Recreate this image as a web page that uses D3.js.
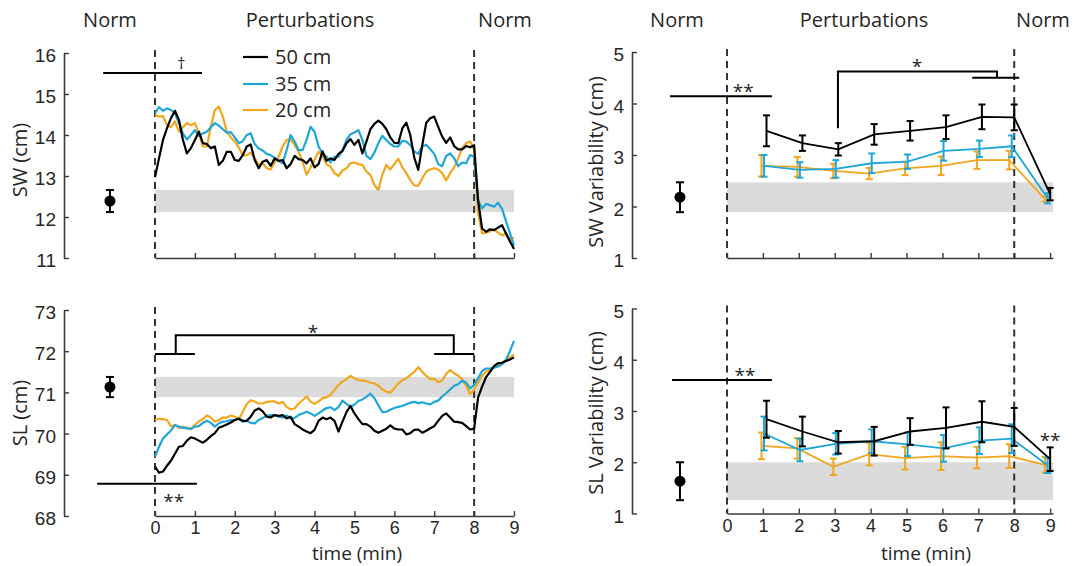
<!DOCTYPE html>
<html><head><meta charset="utf-8">
<script src="https://cdn.jsdelivr.net/npm/d3@7"></script>
<style>
body{margin:0;background:#fff;}
svg{font-family:"Open Sans","Noto Sans",sans-serif;}
</style></head>
<body><svg id="c" width="1075" height="566"></svg>
<script>
// ---------------- DATA ----------------
const seriesNames = ["50 cm", "35 cm", "20 cm"];
const timeMin = d3.range(0, 91).map(i => i / 10);   // 0 .. 9 min, 0.1 min step

const swBlack = [12.97,13.43,13.88,14.16,14.41,14.59,14.37,13.88,13.55,13.68,
 13.88,14.08,13.80,13.78,13.68,13.72,13.27,13.37,13.59,13.59,
 13.39,13.37,13.51,13.72,13.77,13.39,13.19,13.35,13.39,13.25,
 13.43,13.37,13.39,13.19,13.29,13.49,13.41,13.39,13.31,13.43,
 13.21,13.29,13.60,13.37,13.43,13.39,13.54,13.61,13.80,13.90,
 13.76,13.88,13.55,13.84,14.14,14.27,14.35,14.27,14.14,13.94,
 13.81,13.80,14.16,14.30,14.00,13.45,13.15,13.75,14.30,14.41,
 14.45,14.20,13.96,13.81,13.94,13.73,13.65,13.65,13.73,13.70,
 13.75,12.40,11.72,11.64,11.70,11.68,11.74,11.80,11.60,11.40,11.22];
const swCyan = [14.53,14.68,14.59,14.65,14.61,14.53,14.29,14.04,13.89,14.00,
 14.12,13.98,14.04,14.08,14.19,14.29,14.23,14.14,14.06,14.07,
 13.94,13.80,13.85,14.00,14.04,13.78,13.67,13.62,13.54,13.51,
 13.44,13.37,13.31,13.63,14.00,13.84,13.63,13.63,13.88,14.20,
 14.08,13.72,13.55,13.47,13.33,13.47,13.47,13.63,13.88,14.02,
 14.06,14.12,13.88,13.49,13.41,13.57,13.80,13.98,13.88,13.78,
 13.72,13.72,13.86,13.84,13.75,13.60,13.54,13.72,13.76,13.65,
 13.54,13.29,13.24,13.49,13.55,13.43,13.24,13.33,13.31,13.51,
 13.47,12.41,12.21,12.32,12.29,12.25,12.35,12.20,11.90,11.60,11.30];
const swOrange = [14.49,14.45,14.46,14.24,14.19,14.33,14.08,14.19,14.29,14.24,
 14.29,14.04,13.72,13.72,14.20,14.61,14.69,14.45,14.08,13.94,
 13.84,13.70,13.50,13.51,13.57,13.43,13.27,13.31,13.19,13.16,
 13.33,13.47,13.72,13.88,13.89,13.76,13.59,13.35,13.03,13.21,
 13.39,13.59,13.50,13.28,13.23,13.07,13.00,13.13,13.19,13.31,
 13.33,13.29,13.27,13.11,13.02,12.78,12.66,13.03,13.27,13.16,
 13.29,13.42,13.21,13.07,12.90,12.77,12.76,12.94,13.11,13.16,
 13.19,13.16,13.07,12.89,13.07,13.21,13.43,13.68,13.80,13.84,
 13.64,12.10,11.60,11.62,11.65,11.70,11.62,11.55,11.60,11.45,11.50];

const slBlack = [69.20,69.05,69.08,69.22,69.34,69.51,69.68,69.70,69.83,69.91,
 69.88,69.83,69.78,69.85,69.94,70.01,70.14,70.18,70.22,70.27,
 70.33,70.36,70.31,70.31,70.41,70.56,70.61,70.54,70.41,70.39,
 70.45,70.43,70.45,70.37,70.41,70.23,70.17,70.10,70.05,70.01,
 70.09,70.31,70.39,70.35,70.39,70.31,70.05,70.29,70.52,70.67,
 70.49,70.35,70.23,70.23,70.17,70.07,70.02,70.07,70.12,70.20,
 70.12,70.10,70.10,69.98,70.01,70.09,70.10,70.02,70.07,70.13,
 70.18,70.31,70.43,70.49,70.39,70.29,70.28,70.26,70.18,70.10,
 70.12,70.88,71.14,71.37,71.50,71.64,71.71,71.72,71.76,71.80,71.85];
const slCyan = [69.44,69.68,69.88,69.98,70.07,70.21,70.17,70.14,70.14,70.11,
 70.17,70.18,70.26,70.31,70.26,70.17,70.25,70.29,70.30,70.33,
 70.33,70.36,70.29,70.31,70.26,70.25,70.33,70.38,70.43,70.45,
 70.45,70.41,70.39,70.44,70.36,70.38,70.45,70.49,70.53,70.49,
 70.43,70.49,70.56,70.62,70.64,70.57,70.64,70.80,70.72,70.65,
 70.70,70.79,70.83,70.89,70.97,70.86,70.69,70.52,70.53,70.58,
 70.62,70.65,70.67,70.71,70.75,70.77,70.74,70.76,70.73,70.71,
 70.77,70.80,70.90,70.98,71.07,71.16,71.20,71.28,71.24,71.10,
 71.18,71.34,71.52,71.58,71.58,71.60,71.63,71.68,71.80,72.00,72.25];
const slOrange = [70.33,70.36,70.35,70.33,70.18,70.21,70.14,70.17,70.12,70.12,
 70.21,70.30,70.35,70.44,70.39,70.29,70.33,70.39,70.39,70.44,
 70.41,70.35,70.53,70.72,70.81,70.78,70.73,70.73,70.77,70.78,
 70.78,70.73,70.77,70.65,70.59,70.61,70.73,70.81,70.90,70.78,
 70.72,70.78,70.86,70.88,70.94,71.06,71.18,71.26,71.32,71.40,
 71.34,71.30,71.29,71.27,71.24,71.22,71.16,71.07,71.02,70.99,
 71.10,71.22,71.30,71.34,71.42,71.50,71.61,71.50,71.40,71.32,
 71.33,71.25,71.29,71.45,71.54,71.46,71.41,71.32,71.16,70.96,
 71.06,71.24,71.40,71.50,71.54,71.62,71.66,71.72,71.78,71.85,71.92];

// variability (per-minute bins)
const varTime = [1.1, 2.1, 3.1, 4.1, 5.1, 6.1, 7.1, 8.0, 9.0];
const swVar50 = [3.47,3.23,3.11,3.40,3.47,3.54,3.74,3.73,2.24];
const swVar50Err = [0.30,0.15,0.12,0.20,0.19,0.23,0.24,0.25,0.12];
const swVar35 = [2.79,2.71,2.73,2.84,2.87,3.08,3.12,3.17,2.16];
const swVar35Err = [0.21,0.15,0.17,0.19,0.14,0.19,0.16,0.21,0.10];
const swVar20 = [2.79,2.77,2.69,2.64,2.74,2.79,2.90,2.90,2.14];
const swVar20Err = [0.21,0.19,0.14,0.11,0.13,0.18,0.17,0.18,0.05];
const slVar50 = [2.84,2.60,2.39,2.41,2.60,2.67,2.79,2.69,2.06];
const slVar50Err = [0.36,0.29,0.22,0.28,0.26,0.40,0.40,0.37,0.23];
const slVar35 = [2.56,2.24,2.36,2.41,2.35,2.27,2.42,2.46,1.94];
const slVar35Err = [0.33,0.22,0.21,0.23,0.23,0.26,0.26,0.28,0.15];
const slVar20 = [2.32,2.27,1.91,2.16,2.08,2.12,2.09,2.12,1.95];
const slVar20Err = [0.26,0.20,0.16,0.22,0.22,0.27,0.21,0.23,0.15];

// normal walking reference (mean, sd) : SW, SL, SW var, SL var
const normMean = [12.39, 71.13, 2.18, 1.63];
const normErr  = [0.27, 0.245, 0.29, 0.37];

const yTicksSW = [11,12,13,14,15,16];
const yTicksSL = [68,69,70,71,72,73];
const yTicksVar = [1,2,3,4,5];
const xTicks = [0,1,2,3,4,5,6,7,8,9];

// ---------------- STYLE ----------------
const colors = ["#000000", "#1ea6d6", "#f1a61e"];
const axisColor = "#3a3a3a";
const textColor = "#262626";

const svg = d3.select("#c");

// scales
const xL = d3.scaleLinear().domain([0, 9]).range([155, 514]);
const xR = d3.scaleLinear().domain([0, 9.08]).range([727, 1053]);
const yTL = d3.scaleLinear().domain([11, 16]).range([258, 53]);
const yBL = d3.scaleLinear().domain([68, 73]).range([516, 310]);
const yTR = d3.scaleLinear().domain([1, 5]).range([258, 52]);
const yBR = d3.scaleLinear().domain([1, 5]).range([513.5, 308.5]);
const normXL = -1.13, normXR = -1.31;
const yAxisXL = 64, yAxisXR = 632;

function styleAxis(g){
  g.select(".domain").attr("stroke", axisColor).attr("stroke-width", 1.6);
  g.selectAll(".tick line").attr("stroke", axisColor).attr("stroke-width", 1.4);
  g.selectAll(".tick text").attr("fill", textColor);
}

function panel(opt){
  const {x, y, yTicks, showX, normIdx, normX, axisX, ylabel, ylabelX, ylabelY, timeX} = opt;
  const g = svg.append("g");
  // band
  g.append("rect")
    .attr("x", x(0)).attr("width", x.range()[1] - x(0))
    .attr("y", y(normMean[normIdx] + normErr[normIdx]))
    .attr("height", y(normMean[normIdx] - normErr[normIdx]) - y(normMean[normIdx] + normErr[normIdx]))
    .attr("fill", "#dbdbdb");
  // dashed lines
  [0, 8].forEach(t => {
    g.append("line").attr("x1", x(t)).attr("x2", x(t))
      .attr("y1", y.range()[1] - 3).attr("y2", y.range()[0])
      .attr("stroke", "#333").attr("stroke-width", 2).attr("stroke-dasharray", "7,5");
  });
  // y axis
  const ya = g.append("g").attr("transform", `translate(${axisX},0)`)
    .call(d3.axisLeft(y).tickValues(yTicks).tickSizeInner(-5).tickSizeOuter(0).tickPadding(8).tickFormat(d3.format("d")));
  styleAxis(ya);
  ya.selectAll(".tick text").attr("dy", "0.45em")
    .style("font-family", "'Liberation Sans', Arial, sans-serif").style("font-size", "19px");
  // x axis
  const xa = g.append("g").attr("transform", `translate(0,${y.range()[0]})`)
    .call(d3.axisBottom(x).tickValues(xTicks).tickSizeInner(-5).tickSizeOuter(0).tickPadding(5.5)
      .tickFormat(showX ? d3.format("d") : ""));
  styleAxis(xa);
  xa.selectAll(".tick text").style("font-size", "18px");
  // y label
  g.append("text").attr("transform", `translate(${ylabelX},${ylabelY}) rotate(-90)`)
    .attr("text-anchor", "middle").attr("fill", textColor).style("font-size", "20px").text(ylabel);
  // norm point
  const m = normMean[normIdx], e = normErr[normIdx];
  g.append("line").attr("x1", x(normX)).attr("x2", x(normX)).attr("y1", y(m - e)).attr("y2", y(m + e))
    .attr("stroke", "#000").attr("stroke-width", 2);
  [m - e, m + e].forEach(v => g.append("line").attr("x1", x(normX) - 4).attr("x2", x(normX) + 4)
    .attr("y1", y(v)).attr("y2", y(v)).attr("stroke", "#000").attr("stroke-width", 2));
  g.append("circle").attr("cx", x(normX)).attr("cy", y(m)).attr("r", 5.5).attr("fill", "#000");
  if (showX) {
    g.append("text").attr("x", timeX).attr("y", 560.3)
      .attr("text-anchor", "middle").attr("fill", textColor).style("font-size", "19px").text("time (min)");
  }
  return g;
}

const gTL = panel({x: xL, y: yTL, yTicks: yTicksSW, showX: false, normIdx: 0, normX: normXL, axisX: yAxisXL, ylabel: "SW (cm)", ylabelX: 27, ylabelY: 160});
const gBL = panel({x: xL, y: yBL, yTicks: yTicksSL, showX: true, normIdx: 1, normX: normXL, axisX: yAxisXL, ylabel: "SL (cm)", ylabelX: 27, ylabelY: 413, timeX: 357});
const gTR = panel({x: xR, y: yTR, yTicks: yTicksVar, showX: false, normIdx: 2, normX: normXR, axisX: yAxisXR, ylabel: "SW Variability (cm)", ylabelX: 603, ylabelY: 162});
const gBR = panel({x: xR, y: yBR, yTicks: yTicksVar, showX: true, normIdx: 3, normX: normXR, axisX: yAxisXR, ylabel: "SL Variability (cm)", ylabelX: 603, ylabelY: 413, timeX: 926});

// time-series lines (orange, cyan, then black on top)
function drawSeries(g, y, arrs){
  const line = d3.line().x((d, i) => xL(timeMin[i])).y(d => y(d));
  [2, 1, 0].forEach(k => {
    g.append("path").datum(arrs[k]).attr("d", line).attr("fill", "none")
      .attr("stroke", colors[k]).attr("stroke-width", 2.2).attr("stroke-linejoin", "round");
  });
}
drawSeries(gTL, yTL, [swBlack, swCyan, swOrange]);
drawSeries(gBL, yBL, [slBlack, slCyan, slOrange]);

// variability lines with error bars
const dodge = [0, -2.5, -5];
function drawVar(g, y, means, errs){
  [2, 1, 0].forEach(k => {
    const px = i => xR(varTime[i]) + dodge[k];
    const line = d3.line().x((d, i) => px(i)).y(d => y(d));
    g.append("path").datum(means[k]).attr("d", line).attr("fill", "none")
      .attr("stroke", colors[k]).attr("stroke-width", 1.8);
    const eb = g.append("g").attr("stroke", colors[k]).attr("stroke-width", 2);
    means[k].forEach((m, i) => {
      const e = errs[k][i];
      eb.append("line").attr("x1", px(i)).attr("x2", px(i)).attr("y1", y(m - e)).attr("y2", y(m + e));
      [m - e, m + e].forEach(v => eb.append("line").attr("x1", px(i) - 3.5).attr("x2", px(i) + 3.5)
        .attr("y1", y(v)).attr("y2", y(v)));
    });
  });
}
drawVar(gTR, yTR, [swVar50, swVar35, swVar20], [swVar50Err, swVar35Err, swVar20Err]);
drawVar(gBR, yBR, [slVar50, slVar35, slVar20], [slVar50Err, slVar35Err, slVar20Err]);

// significance annotations (data coordinates)
function seg(g, x, y, pts){
  g.append("path").attr("d", d3.line().x(p => x(p[0])).y(p => y(p[1]))(pts))
    .attr("fill", "none").attr("stroke", "#000").attr("stroke-width", 2);
}
function label(g, x, y, px, py, t, size){
  g.append("text").attr("x", x(px)).attr("y", y(py)).attr("text-anchor", "middle")
    .attr("fill", textColor).style("font-size", (size || 18) + "px").text(t);
}
// top-left
seg(gTL, xL, yTL, [[-1.3, 15.51], [1.18, 15.51]]);
label(gTL, xL, yTL, 0.66, 15.62, "†", 16);
// bottom-left
seg(gBL, xL, yBL, [[-1.45, 68.78], [1.05, 68.78]]);
label(gBL, xL, yBL, 0.47, 68.2, "**", 19);
seg(gBL, xL, yBL, [[0, 71.93], [1.0, 71.93]]);
seg(gBL, xL, yBL, [[0.52, 71.93], [0.52, 72.39], [7.49, 72.39], [7.49, 71.93]]);
seg(gBL, xL, yBL, [[7.0, 71.93], [8.0, 71.93]]);
label(gBL, xL, yBL, 3.96, 72.3, "*", 19);
// top-right
seg(gTR, xR, yTR, [[-1.59, 4.14], [1.25, 4.14]]);
label(gTR, xR, yTR, 0.45, 4.1, "**", 19);
seg(gTR, xR, yTR, [[3.09, 3.52], [3.09, 4.62], [7.52, 4.62], [7.52, 4.50]]);
seg(gTR, xR, yTR, [[6.83, 4.50], [8.14, 4.50]]);
label(gTR, xR, yTR, 5.29, 4.6, "*", 19);
// bottom-right
seg(gBR, xR, yBR, [[-1.53, 3.605], [1.25, 3.605]]);
label(gBR, xR, yBR, 0.5, 3.566, "**", 19);
label(gBR, xR, yBR, 9.0, 2.3, "**", 19);

// headers
const headers = [["Norm", 110], ["Perturbations", 310], ["Norm", 505], ["Norm", 677], ["Perturbations", 864], ["Norm", 1043]];
headers.forEach(h => svg.append("text").attr("x", h[1]).attr("y", 27).attr("text-anchor", "middle")
  .attr("fill", textColor).style("font-size", "20px").text(h[0]));

// legend
const legY = [57, 84, 110];
seriesNames.forEach((n, i) => {
  svg.append("line").attr("x1", 243).attr("x2", 268).attr("y1", legY[i]).attr("y2", legY[i])
    .attr("stroke", colors[i]).attr("stroke-width", 2.2);
  svg.append("text").attr("x", 275).attr("y", legY[i] + 7).attr("fill", textColor)
    .style("font-size", "20px").text(n);
});
</script></body></html>
